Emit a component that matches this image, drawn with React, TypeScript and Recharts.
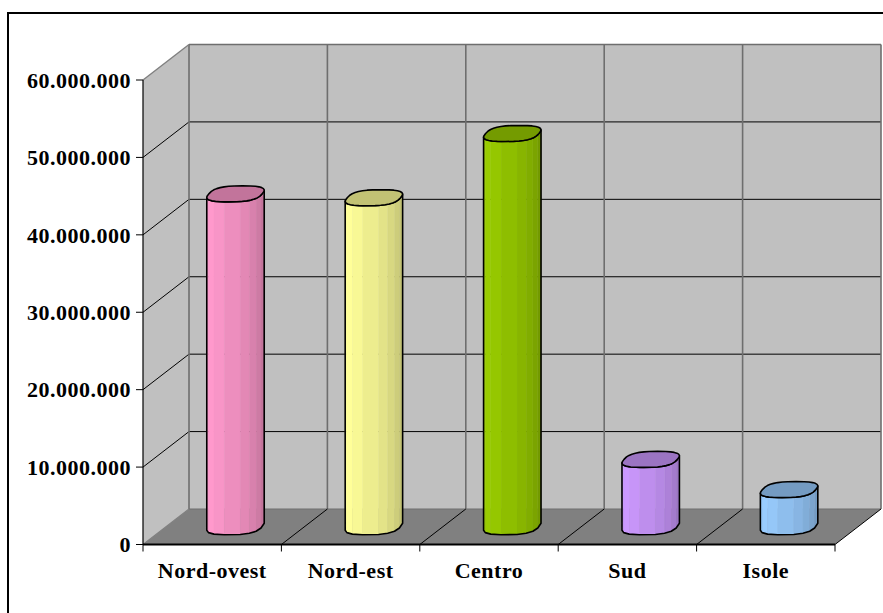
import React from "react";
import { BarChart, Bar, XAxis, YAxis, ReferenceArea, Cell } from "recharts";

const categories = ["Nord-ovest", "Nord-est", "Centro", "Sud", "Isole"];
const values = [43000000, 42500000, 50800000, 8700000, 4800000];
const yTicks = [0, 10000000, 20000000, 30000000, 40000000, 50000000, 60000000];
const palette = ["#FF99CC", "#FFFF99", "#99CC00", "#CC99FF", "#99CCFF"];

const rows = categories.map((name, i) => ({ name, value: values[i] }));
const yMax = yTicks[yTicks.length - 1];

const DX = 46;
const DY = 35.5;
const FONT = "'Liberation Serif', 'Times New Roman', serif";
const WALL = "#C0C0C0";
const FLOOR = "#808080";
const EDGE = "#6e6e6e";

const fmt = (v: number) => (v === 0 ? "0" : String(v).replace(/\B(?=(\d{3})+$)/g, "."));

function shade(hex: string, f: number) {
  const n = parseInt(hex.slice(1), 16);
  const c = [(n >> 16) & 255, (n >> 8) & 255, n & 255].map((v) => Math.round(v * f));
  return `rgb(${c[0]},${c[1]},${c[2]})`;
}

function Room(props: any) {
  const { x, y, width, height } = props;
  const bottom = y + height;
  const right = x + width;
  const band = width / categories.length;
  const bands = categories.map((_, i) => x + band * i).concat([right]);
  const inner = yTicks.filter((t) => t > 0 && t < yMax).map((t) => bottom - (height * t) / yMax);
  return (
    <g>
      <polygon points={`${x + DX},${y - DY} ${right + DX},${y - DY} ${right + DX},${bottom - DY} ${x + DX},${bottom - DY}`} fill={WALL} />
      <polygon points={`${x},${y} ${x + DX},${y - DY} ${x + DX},${bottom - DY} ${x},${bottom}`} fill={WALL} />
      <polygon points={`${x},${bottom} ${x + DX},${bottom - DY} ${right + DX},${bottom - DY} ${right},${bottom}`} fill={FLOOR} />
      {inner.map((gy, i) => (
        <g key={i}>
          <line x1={x} y1={gy} x2={x + DX} y2={gy - DY} stroke="#000" strokeWidth={1} />
          <line x1={x + DX} y1={gy - DY} x2={right + DX} y2={gy - DY} stroke="#000" strokeWidth={1} />
        </g>
      ))}
      {bands.map((bx, i) => (
        <line key={i} x1={bx + DX} y1={y - DY} x2={bx + DX} y2={bottom - DY} stroke={EDGE} strokeWidth={1.6} />
      ))}
      <line x1={x + DX} y1={y - DY} x2={right + DX} y2={y - DY} stroke={EDGE} strokeWidth={1.6} />
      <line x1={x + DX} y1={bottom - DY} x2={right + DX} y2={bottom - DY} stroke={EDGE} strokeWidth={1.2} />
      <line x1={x} y1={y} x2={x + DX} y2={y - DY} stroke={FLOOR} strokeWidth={1.4} />
      <line x1={x} y1={bottom} x2={x + DX} y2={bottom - DY} stroke={FLOOR} strokeWidth={1.2} />
      {bands.slice(1).map((bx, i) => (
        <line key={i} x1={bx} y1={bottom} x2={bx + DX} y2={bottom - DY} stroke="#000" strokeWidth={1} />
      ))}
      {bands.map((bx, i) => (
        <line key={i} x1={bx} y1={bottom} x2={bx} y2={bottom + 7} stroke="#000" strokeWidth={1} />
      ))}
    </g>
  );
}

function Cylinder(props: any) {
  const { x, y, width, height, index } = props;
  const color = palette[index];
  const half = width / 2;
  const a = half * 0.92;
  const b = half * 0.24;
  const c = 8;
  const p = 0.72;
  const cx = x + half + DX / 2 + 0.5;
  const topY = y - DY / 2;
  const baseY = y + height - DY / 2;
  const pt = (t: number, cy: number): [number, number] => {
    const co = Math.cos(t);
    const si = Math.sin(t);
    const u = Math.sign(co) * Math.pow(Math.abs(co), p);
    const v = Math.sign(si) * Math.pow(Math.abs(si), p);
    return [cx + a * u + b * v, cy - c * v];
  };
  const start = (18 * Math.PI) / 180;
  const facets = 8;
  const arc = Array.from({ length: facets + 1 }, (_, i) => start - (Math.PI * i) / facets);
  const cap = Array.from({ length: 32 }, (_, i) => pt((2 * Math.PI * i) / 32, topY));
  const str = (ps: [number, number][]) => ps.map((q) => q.join(",")).join(" ");
  const outline: [number, number][] = [
    ...arc.map((t) => pt(t, baseY)),
    ...arc.slice().reverse().map((t) => pt(t, topY)),
  ];
  return (
    <g>
      {arc.slice(0, -1).map((t, i) => {
        const t2 = arc[i + 1];
        const f = Math.min(1, 0.74 + (0.34 * (i + 0.5)) / facets);
        const fill = shade(color, f);
        return (
          <polygon
            key={i}
            points={str([pt(t, topY), pt(t2, topY), pt(t2, baseY), pt(t, baseY)])}
            fill={fill}
            stroke={fill}
            strokeWidth={0.4}
          />
        );
      })}
      <polygon points={str(outline)} fill="none" stroke="#000" strokeWidth={1.6} strokeLinejoin="round" />
      <polygon points={str(cap)} fill={shade(color, 0.76)} stroke="#000" strokeWidth={1.6} strokeLinejoin="round" />
    </g>
  );
}

const tickStyle = { fill: "#000", fontFamily: FONT, fontWeight: 700, fontSize: 22, letterSpacing: 0.5 };

export default function App() {
  return (
    <div style={{ position: "absolute", left: 0, top: 0, width: 883, height: 613, overflow: "hidden", background: "#fff" }}>
      <div style={{ position: "absolute", left: 7, top: 12, width: 876, height: 601, borderLeft: "2px solid #000", borderTop: "2px solid #000" }} />
      <div style={{ position: "absolute", left: 0, top: 0 }}>
        <BarChart width={883} height={613} data={rows} margin={{ top: 80, right: 48, bottom: 0, left: 0 }} barSize={58}>
          <ReferenceArea y1={0} y2={yMax} shape={<Room />} ifOverflow="visible" />
          <XAxis dataKey="name" height={68.5} axisLine={{ stroke: "#000", strokeWidth: 2 }} tickLine={false} tick={tickStyle} tickMargin={12} interval={0} />
          <YAxis width={143} domain={[0, yMax]} ticks={yTicks} tickFormatter={fmt} axisLine={{ stroke: "#000", strokeWidth: 1.2 }} tickLine={{ stroke: "#000" }} tickSize={7} tick={tickStyle} tickMargin={5} interval={0} />
          <Bar dataKey="value" shape={<Cylinder />} isAnimationActive={false}>
            {rows.map((r, i) => (
              <Cell key={r.name} fill={palette[i]} />
            ))}
          </Bar>
        </BarChart>
      </div>
    </div>
  );
}
